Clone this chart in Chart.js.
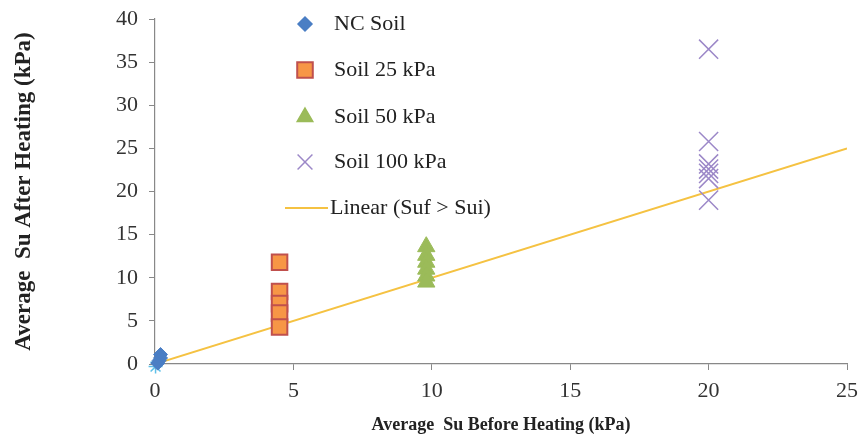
<!DOCTYPE html>
<html lang="en">
<head>
  <meta charset="UTF-8">
  <title>Average Su Before / After Heating</title>
  <script src="https://cdn.jsdelivr.net/npm/chart.js"></script>
  <style>
    html, body { margin: 0; padding: 0; background: #fff; }
    #wrap { width: 862px; height: 440px; }
  </style>
</head>
<body>
  <div id="wrap"><canvas id="chart" width="862" height="440"></canvas></div>

  <script>
    // data
    const ncX = [0.2, 0.2, 0.15, 0.1];
    const ncY = [1.1, 0.7, 0.4, 0.1];
    const s25X = [4.5, 4.5, 4.5, 4.5, 4.5];
    const s25Y = [11.8, 8.4, 7.0, 5.9, 4.3];
    const s50X = [9.8, 9.8, 9.8, 9.8, 9.8, 9.8];
    const s50Y = [13.6, 12.6, 11.8, 11.0, 10.2, 9.5];
    const s100X = [20, 20, 20, 20, 20, 20, 20];
    const s100Y = [36.5, 25.8, 23.2, 22.6, 22.1, 21.5, 19.0];
    const starX = [0.02];
    const starY = [-0.3];
    const trendX = [0, 25];
    const trendY = [0, 25];
    const xTicks = [0, 5, 10, 15, 20, 25];
    const yTicks = [0, 5, 10, 15, 20, 25, 30, 35, 40];

    const pts = (xs, ys) => xs.map((x, i) => ({ x, y: ys[i] }));
    const serif = "'Liberation Serif', 'DejaVu Serif', serif";

    const legendItems = [
      { text: 'NC Soil', style: 'rectRot', fill: '#4a7ec4', stroke: '#4a7ec4', r: 7 },
      { text: 'Soil 25 kPa', style: 'rect', fill: '#f79646', stroke: '#c0504d', r: 11 },
      { text: 'Soil 50 kPa', style: 'triangle', fill: '#9bbb59', stroke: '#9bbb59', r: 9 },
      { text: 'Soil 100 kPa', style: 'crossRot', fill: '#9c88c8', stroke: '#9c88c8', r: 10.5 },
      { text: 'Linear (Suf > Sui)', style: 'line', fill: '#f5c242', stroke: '#f5c242', r: 0 }
    ];

    // legend drawn inside the plot, like the original
    const innerLegend = {
      id: 'innerLegend',
      afterDraw(chart) {
        const ctx = chart.ctx;
        const x0 = 305, textX = 334;
        const rows = [24, 70, 117, 162, 208];
        ctx.save();
        ctx.font = '22px ' + serif;
        ctx.textBaseline = 'middle';
        legendItems.forEach((it, i) => {
          const y = rows[i];
          if (it.style === 'line') {
            ctx.strokeStyle = it.stroke;
            ctx.lineWidth = 2;
            ctx.beginPath();
            ctx.moveTo(285, y);
            ctx.lineTo(328, y);
            ctx.stroke();
          } else {
            ctx.fillStyle = it.fill;
            ctx.strokeStyle = it.stroke;
            ctx.lineWidth = it.style === 'rect' ? 2 : 1.5;
            Chart.helpers.drawPoint(ctx, { pointStyle: it.style, radius: it.r, rotation: 0, borderWidth: ctx.lineWidth }, x0, y);
          }
          ctx.fillStyle = '#222';
          ctx.fillText(it.text, it.style === 'line' ? textX - 4 : textX, y);
        });
        ctx.restore();
      }
    };

    new Chart(document.getElementById('chart'), {
      type: 'scatter',
      data: {
        datasets: [
          {
            label: 'Linear (Suf > Sui)',
            type: 'line',
            data: pts(trendX, trendY),
            borderColor: '#f5c242',
            borderWidth: 2,
            pointRadius: 0,
            fill: false,
            order: 5
          },
          {
            label: 'NC Soil',
            data: pts(ncX, ncY),
            pointStyle: 'rectRot',
            pointRadius: 7,
            backgroundColor: '#4a7ec4',
            borderColor: '#4a7ec4',
            clip: false
          },
          {
            label: '',
            data: pts(starX, starY),
            pointStyle: 'star',
            pointRadius: 7,
            backgroundColor: '#5ec0e8',
            borderColor: '#5ec0e8',
            borderWidth: 1.5,
            clip: false
          },
          {
            label: 'Soil 25 kPa',
            data: pts(s25X, s25Y),
            pointStyle: 'rect',
            pointRadius: 11,
            backgroundColor: '#f79646',
            borderColor: '#c0504d',
            borderWidth: 2
          },
          {
            label: 'Soil 50 kPa',
            data: pts(s50X, s50Y),
            pointStyle: 'triangle',
            pointRadius: 10,
            backgroundColor: '#9bbb59',
            borderColor: '#9bbb59'
          },
          {
            label: 'Soil 100 kPa',
            data: pts(s100X, s100Y),
            pointStyle: 'crossRot',
            pointRadius: 13.5,
            backgroundColor: '#9c88c8',
            borderColor: '#9c88c8',
            borderWidth: 1.5
          }
        ]
      },
      options: {
        responsive: false,
        animation: false,
        layout: { padding: { top: 19, right: 11, left: 0, bottom: 0 } },
        plugins: {
          legend: { display: false },
          tooltip: { enabled: false }
        },
        scales: {
          x: {
            type: 'linear',
            min: 0,
            max: 25,
            afterBuildTicks: s => { s.ticks = xTicks.map(v => ({ value: v })); },
            afterFit: s => { s.height = 76; s.paddingLeft = 0; s.paddingRight = 0; },
            border: { color: '#888', width: 1.2 },
            grid: { display: true, drawOnChartArea: false, drawTicks: true, tickLength: 6, color: '#888' },
            ticks: { color: '#333', font: { family: serif, size: 22 }, padding: 8, maxRotation: 0 },
            title: {
              display: true,
              text: 'Average  Su Before Heating (kPa)',
              color: '#222',
              font: { family: serif, size: 18, weight: 'bold' },
              padding: { top: 2 }
            }
          },
          y: {
            type: 'linear',
            min: 0,
            max: 40,
            afterBuildTicks: s => { s.ticks = yTicks.map(v => ({ value: v })); },
            afterFit: s => { s.width = 155; s.paddingTop = 0; s.paddingBottom = 0; },
            border: { color: '#888', width: 1.2 },
            grid: { display: true, drawOnChartArea: false, drawTicks: true, tickLength: 6, color: '#888' },
            ticks: { color: '#333', font: { family: serif, size: 22 }, padding: 11 },
            title: {
              display: true,
              text: 'Average  Su After Heating (kPa)',
              color: '#222',
              font: { family: serif, size: 23, weight: 'bold' },
              padding: { top: 10, bottom: 0 }
            }
          }
        }
      },
      plugins: [innerLegend]
    });
  </script>
</body>
</html>
